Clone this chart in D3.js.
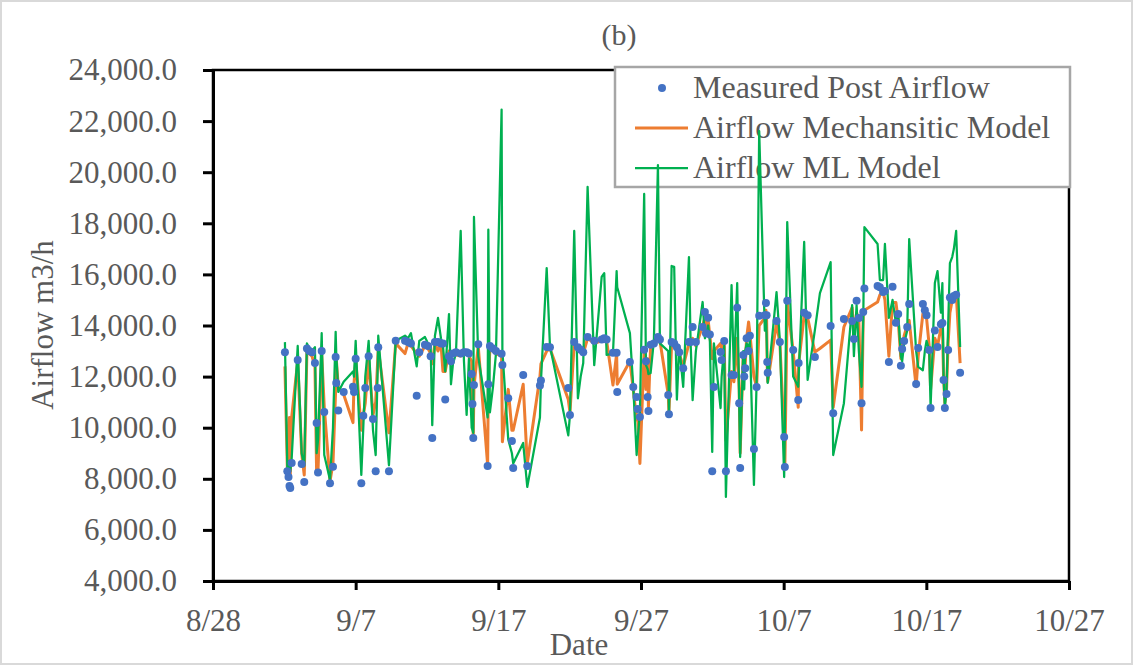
<!DOCTYPE html>
<html>
<head>
<meta charset="utf-8">
<script src="https://cdn.jsdelivr.net/npm/d3@7"></script>
<style>
  body { margin: 0; background: #fff; }
  text { font-family: "Liberation Serif", "Times New Roman", serif; fill: #595959; }
</style>
</head>
<body>
<div id="chart"></div>
<script>
// --- data ---
const times = [
  "09-02 01:00","09-02 05:00","09-02 07:00","09-02 08:40","09-02 10:00","09-02 12:20","09-02 22:30","09-03 05:10","09-03 09:30","09-03 14:00",
  "09-03 18:00","09-03 22:30","09-04 03:30","09-04 06:20","09-04 08:40","09-04 14:50","09-04 19:10","09-05 04:50","09-05 09:50","09-05 14:20",
  "09-05 15:20","09-05 18:45","09-06 03:50","09-06 19:30","09-06 21:10","09-07 00:00","09-07 09:30","09-07 12:50","09-07 16:10","09-07 21:50",
  "09-08 05:10","09-08 09:40","09-08 13:00","09-08 14:00","09-09 08:00","09-09 19:20","09-10 11:00","09-10 16:00","09-10 21:00","09-11 06:40",
  "09-11 11:00","09-11 20:30","09-12 01:40","09-12 06:10","09-12 08:50","09-12 13:20","09-12 18:30","09-12 23:30","09-13 02:50","09-13 06:40",
  "09-13 13:00","09-13 16:20","09-13 19:40","09-14 00:40","09-14 08:40","09-14 14:10","09-14 18:40","09-14 22:30","09-15 03:10","09-15 04:30",
  "09-15 05:50","09-15 07:00","09-15 14:10","09-16 06:00","09-16 07:10","09-16 09:50","09-16 15:00","09-16 20:00","09-17 05:30","09-17 06:50",
  "09-17 16:40","09-17 22:50","09-18 01:00","09-18 17:50","09-19 00:40","09-19 22:00","09-19 23:40","09-20 09:20","09-20 14:50","09-21 21:40",
  "09-22 00:30","09-22 07:40","09-22 13:50","09-22 18:30","09-22 22:50","09-23 06:10","09-23 17:20","09-24 05:50","09-24 10:10","09-24 14:10",
  "09-25 00:50","09-25 07:00","09-25 08:00","09-26 05:20","09-26 11:00","09-26 16:40","09-26 18:20","09-26 22:10","09-27 05:20","09-27 08:20",
  "09-27 11:10","09-27 12:30","09-27 16:10","09-27 21:40","09-28 04:30","09-28 07:50","09-28 21:50","09-28 23:00","09-29 03:30","09-29 07:50",
  "09-29 12:20","09-29 16:20","09-29 23:00","09-30 08:40","09-30 11:30","09-30 14:50","09-30 20:20","10-01 07:40","10-01 11:30","10-01 13:10",
  "10-01 17:00","10-01 19:50","10-01 23:50","10-02 02:40","10-02 13:50","10-02 15:40","10-02 20:00","10-02 22:50","10-03 08:20","10-03 12:20",
  "10-03 17:50","10-03 21:10","10-03 22:50","10-04 04:00","10-04 05:40","10-04 07:20","10-04 09:40","10-04 13:00","10-04 15:10","10-04 22:00",
  "10-05 02:30","10-05 06:50","10-05 16:20","10-05 18:10","10-05 19:20","10-05 20:20","10-05 21:10","10-06 12:00","10-06 17:40","10-07 00:50",
  "10-07 02:00","10-07 06:00","10-07 16:00","10-08 00:30","10-08 01:10","10-08 10:30","10-08 16:20","10-09 04:30","10-09 13:00","10-10 07:00",
  "10-10 11:20","10-11 05:20","10-11 19:10","10-11 22:10","10-12 02:40","10-12 06:30","10-12 11:00","10-12 13:50","10-12 15:50","10-13 14:00",
  "10-13 17:50","10-13 23:20","10-14 02:20","10-14 09:00","10-14 15:10","10-14 20:50","10-15 00:40","10-15 05:10","10-15 07:20","10-15 10:40",
  "10-15 15:50","10-15 19:10","10-16 06:50","10-16 10:20","10-16 18:10","10-16 21:30","10-17 00:20","10-17 04:50","10-17 07:10","10-17 14:20",
  "10-17 18:50","10-18 00:30","10-18 03:00","10-18 05:00","10-18 07:10","10-18 10:00","10-18 12:40","10-18 15:40","10-18 19:30","10-18 22:20",
  "10-19 02:10","10-19 08:50"
];

const measured = [
  12950,8300,8070,7720,7640,8620,12650,8580,7870,13100,
  13000,12950,12530,10180,8250,13000,10610,7830,8470,12770,
  11750,10670,11400,11600,11400,12700,7830,10470,11550,12800,
  10340,8300,11550,13150,8300,13400,13400,13350,13300,11250,
  12950,13250,13200,12800,9600,13350,13350,13300,13300,11100,
  12800,12600,12900,12950,12900,12950,12950,12900,12100,10930,
  9600,11670,13270,8500,11700,13200,13100,13000,12890,12450,
  11150,9480,8420,12060,8500,11650,11850,13160,13150,11550,
  10500,13350,13150,13050,12950,13550,13400,13450,13500,13450,
  12930,12930,11400,12570,11590,11200,10730,10420,13050,12600,
  11200,10650,13250,13300,13550,13450,11280,10530,13350,13300,
  13150,12950,12330,13350,13350,13940,13350,13940,14530,13700,
  14300,13650,8300,11590,12960,12650,13390,8300,12060,12060,
  14690,10960,8420,12850,12000,12330,13500,13000,13600,9170,
  11590,14380,14400,14880,14400,12570,12150,14180,13350,9640,
  8460,14970,13040,11080,12530,14500,14400,12770,null,13980,
  10570,14250,14180,13470,14970,14290,10960,14530,15450,15550,
  15500,15310,15350,12570,15520,14110,14450,12420,13080,13390,
  13940,14840,11710,13120,14840,14600,14400,13040,10770,13800,
  13160,14050,14100,11870,10770,11320,13040,15100,15000,15150,
  15200,12150
];

const mechanistic = [
  12400,8450,8300,10400,8100,10400,12600,9000,8150,13000,
  12900,12800,12400,8220,8300,12900,10800,7900,8600,11480,
  12700,11600,11300,10200,11700,12700,9900,10500,10970,12700,
  10500,11000,12600,13100,9800,13300,12900,13300,13200,12900,
  12800,13200,13100,12900,12500,13300,13000,13300,12200,12200,
  13000,12900,12950,12850,12800,12900,12900,12800,12600,10900,
  9650,11600,13200,8550,11800,13100,13000,12900,12800,9450,
  11500,9900,9900,11700,8600,12000,12500,13000,13100,11100,
  10600,13300,13100,13000,12900,13500,13300,13400,13450,13400,
  11670,12900,11700,12600,11500,10300,10500,8600,13000,11500,
  12700,10800,13200,13300,13500,13400,11300,10600,13300,13250,
  13100,12900,12400,13300,13300,13500,13200,14000,14300,13800,
  14200,13600,12700,13000,13300,13000,13400,9500,12200,11800,
  13500,11500,9000,12900,12200,12500,13500,14140,13700,12000,
  11600,14000,14300,14600,14200,12400,11800,14100,13300,9700,
  8500,14900,13000,10800,12500,14400,14300,12960,13100,13430,
  10800,13940,14700,13600,14500,14200,9910,14400,14600,14920,
  15200,15300,15000,12800,14900,14900,14200,12700,13000,13600,
  14000,14200,11600,12800,14450,14600,14300,13200,11500,13500,
  13200,13900,14000,12000,10960,11500,13300,14500,15000,15200,
  15300,12530
];

const mlModel = [
  13350,8450,8200,8700,8300,8800,13200,9000,8500,13300,
  13100,13000,13150,9000,9500,13700,8930,7950,10000,13750,
  12900,11400,11800,12200,12000,13400,8150,10000,12000,13400,
  9900,8930,12300,13600,8530,13400,13600,13500,13700,12400,
  13400,13550,13300,13200,10100,13600,14300,13500,13200,12200,
  14450,11700,12500,12900,17700,12600,10500,12700,10000,9900,
  9800,18250,12800,10400,17750,10600,11600,12900,22450,13000,
  9540,9000,8600,9400,7680,10400,11800,16250,13200,9700,
  10500,17700,11150,12000,12530,19430,12450,15900,16050,12850,
  12900,16130,15500,13700,11600,8930,9500,10600,19150,12450,
  12300,12100,12140,13400,20280,13300,13000,10420,16330,16300,
  11100,13200,11600,16680,13300,11080,13000,14920,13500,13600,
  14000,13400,9050,13300,10770,12000,13200,7290,15580,12100,
  15660,11000,8850,13000,11500,13000,13300,13100,13400,7760,
  11800,21610,13800,14500,13500,12500,11750,15310,13400,8070,
  10000,18050,12000,11600,12000,17270,11870,13820,15270,16480,
  8930,10960,14800,12800,14800,13000,11600,14200,17850,17190,
  15780,15780,17190,14300,15000,14100,14500,12800,12600,13300,
  13800,17380,13000,12380,12250,13000,13400,13040,10800,15660,
  16130,14500,15660,12000,10800,11500,14000,16440,16680,17000,
  17700,13160
];

const xTickDates = ["08-28", "09-07", "09-17", "09-27", "10-07", "10-17", "10-27"];
const yTicks = [4000, 6000, 8000, 10000, 12000, 14000, 16000, 18000, 20000, 22000, 24000];
const seriesNames = ["Measured Post Airflow", "Airflow Mechansitic Model", "Airflow ML Model"];
const seriesColors = ["#4472C4", "#ED7D31", "#00B050"];

// --- canvas ---
const W = 1133, H = 665;
const plot = { left: 213, top: 70, right: 1069, bottom: 581 };

const svg = d3.select("#chart").append("svg")
  .attr("width", W)
  .attr("height", H);

// outer chart border
svg.append("rect")
  .attr("x", 1).attr("y", 1)
  .attr("width", W - 2).attr("height", H - 2)
  .attr("fill", "#fff")
  .attr("stroke", "#d9d9d9")
  .attr("stroke-width", 2);

const parseTime = d3.timeParse("%m-%d %H:%M");
const parseDay = d3.timeParse("%m-%d");

const rows = times.map((t, i) => ({
  date: parseTime(t),
  meas: measured[i],
  mech: mechanistic[i],
  ml: mlModel[i]
}));

const xTicks = xTickDates.map(parseDay);

const x = d3.scaleTime()
  .domain([xTicks[0], xTicks[xTicks.length - 1]])
  .range([plot.left, plot.right]);

const y = d3.scaleLinear()
  .domain([4000, 24000])
  .range([plot.bottom, plot.top]);

// plot frame
svg.append("rect")
  .attr("x", plot.left).attr("y", plot.top)
  .attr("width", plot.right - plot.left)
  .attr("height", plot.bottom - plot.top)
  .attr("fill", "none")
  .attr("stroke", "#000")
  .attr("stroke-width", 2.5);

// y axis
const yAxis = svg.append("g")
  .attr("transform", `translate(${plot.left},0)`)
  .call(d3.axisLeft(y)
    .tickValues(yTicks)
    .tickFormat(d3.format(",.1f"))
    .tickSize(10)
    .tickSizeOuter(0)
    .tickPadding(26));
yAxis.select(".domain").attr("stroke", "#000").attr("stroke-width", 3);
yAxis.selectAll(".tick line").attr("stroke", "#000").attr("stroke-width", 3);
yAxis.selectAll(".tick text").style("font-size", "31px").attr("fill", "#595959");

// x axis
const xAxis = svg.append("g")
  .attr("transform", `translate(0,${plot.bottom})`)
  .call(d3.axisBottom(x)
    .tickValues(xTicks)
    .tickFormat(d3.timeFormat("%-m/%-d"))
    .tickSize(9)
    .tickSizeOuter(0)
    .tickPadding(19));
xAxis.select(".domain").attr("stroke", "#000").attr("stroke-width", 3);
xAxis.selectAll(".tick line").attr("stroke", "#000").attr("stroke-width", 3);
xAxis.selectAll(".tick text").style("font-size", "31px").attr("fill", "#595959");

// axis titles
svg.append("text")
  .attr("transform", "rotate(-90)")
  .attr("x", -325)
  .attr("y", 53)
  .attr("text-anchor", "middle")
  .style("font-size", "31px")
  .text("Airflow m3/h");

svg.append("text")
  .attr("x", 579)
  .attr("y", 655)
  .attr("text-anchor", "middle")
  .style("font-size", "31px")
  .text("Date");

svg.append("text")
  .attr("x", 619)
  .attr("y", 45)
  .attr("text-anchor", "middle")
  .style("font-size", "30px")
  .attr("fill", "#404040")
  .text("(b)");

// legend (lines are drawn over it, as in the picture)
const legend = svg.append("g");
legend.append("rect")
  .attr("x", 615).attr("y", 67)
  .attr("width", 455).attr("height", 120)
  .attr("fill", "#fff")
  .attr("stroke", "#a6a6a6")
  .attr("stroke-width", 2.5);

seriesNames.forEach((name, i) => {
  const cy = 88 + i * 40;
  if (i === 0) {
    legend.append("circle")
      .attr("cx", 662).attr("cy", cy)
      .attr("r", 4)
      .attr("fill", seriesColors[i]);
  } else {
    legend.append("line")
      .attr("x1", 635).attr("x2", 688)
      .attr("y1", cy).attr("y2", cy)
      .attr("stroke", seriesColors[i])
      .attr("stroke-width", i === 1 ? 3 : 2.25);
  }
  legend.append("text")
    .attr("x", 693)
    .attr("y", cy + 10)
    .style("font-size", "32px")
    .text(name);
});

// --- series ---
const lineMech = d3.line()
  .x(d => x(d.date))
  .y(d => y(d.mech));

const lineMl = d3.line()
  .x(d => x(d.date))
  .y(d => y(d.ml));

svg.append("path")
  .datum(rows)
  .attr("d", lineMech)
  .attr("fill", "none")
  .attr("stroke", seriesColors[1])
  .attr("stroke-width", 3)
  .attr("stroke-linejoin", "round");

svg.append("path")
  .datum(rows)
  .attr("d", lineMl)
  .attr("fill", "none")
  .attr("stroke", seriesColors[2])
  .attr("stroke-width", 2.25)
  .attr("stroke-linejoin", "round");

svg.selectAll(".dot")
  .data(rows.filter(d => d.meas != null))
  .enter().append("circle")
  .attr("class", "dot")
  .attr("cx", d => x(d.date))
  .attr("cy", d => y(d.meas))
  .attr("r", 4)
  .attr("fill", seriesColors[0]);
</script>
</body>
</html>
